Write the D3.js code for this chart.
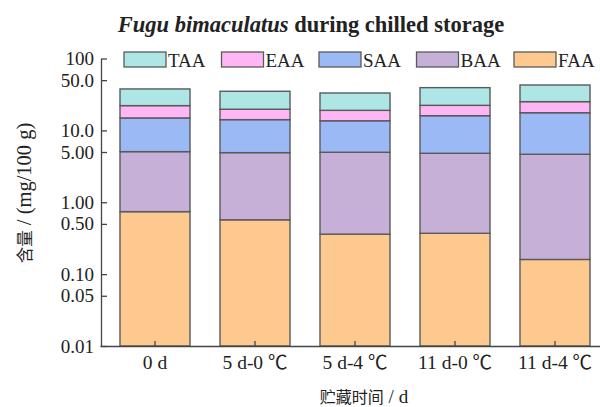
<!DOCTYPE html>
<html>
<head>
<meta charset="utf-8">
<script src="https://cdn.jsdelivr.net/npm/d3@7"></script>
<style>
  body { margin: 0; background: #fff; }
  text { font-family: "Liberation Serif", "Noto Sans CJK SC", serif; fill: #222; }
</style>
</head>
<body>
<svg width="600" height="407"></svg>
<script>
const categories = ['0 d', '5 d-0 ℃', '5 d-4 ℃', '11 d-0 ℃', '11 d-4 ℃']
// segment values, mg/100 g (stacked bottom to top)
const FAA = [0.74, 0.57, 0.36, 0.37, 0.16]
const BAA = [4.32, 4.33, 4.60, 4.43, 4.49]
const SAA = [9.84, 9.20, 8.64, 11.2, 12.95]
const EAA = [7.2, 5.6, 5.4, 6.3, 7.5]
const TAA = [15.6, 15.3, 14.1, 17.0, 17.7]
const yTicks = [0.01, 0.05, 0.1, 0.5, 1, 5, 10, 50, 100]
const yTickLabels = ['0.01', '0.05', '0.10', '0.50', '1.00', '5.00', '10.0', '50.0', '100']

const seriesNames = ['FAA', 'BAA', 'SAA', 'EAA', 'TAA']
const seriesVals = [FAA, BAA, SAA, EAA, TAA]
const legendOrder = ['TAA', 'EAA', 'SAA', 'BAA', 'FAA']
const colors = {TAA: '#aee6e6', EAA: '#ffb6f4', SAA: '#9bbaf5', BAA: '#c6b0d8', FAA: '#fdc98e'}

const svg = d3.select('svg')

const x = d3.scaleBand().domain(categories).range([100, 610]).paddingInner(0.3).paddingOuter(0.2)
const y = d3.scaleLog().domain([0.01, 100]).range([346, 58.5])

// build stacked rows
const rows = categories.map((c, i) => {
    const r = {cat: c}
    seriesNames.forEach((s, j) => r[s] = seriesVals[j][i])
    return r
})
const stacked = d3.stack().keys(seriesNames)(rows)

svg.append('g').selectAll('g').data(stacked).enter().append('g')
    .attr('fill', d => colors[d.key])
  .selectAll('rect').data(d => d).enter().append('rect')
    .attr('x', d => x(d.data.cat))
    .attr('width', x.bandwidth())
    .attr('y', d => y(d[1]))
    .attr('height', d => y(Math.max(d[0], 0.01)) - y(d[1]))
    .attr('stroke', '#5a5a5a')
    .attr('stroke-width', 1.4)

// axes
const yAxis = svg.append('g').attr('transform', 'translate(101,0)')
    .call(d3.axisLeft(y).tickValues(yTicks).tickFormat((d, i) => yTickLabels[i]).tickSize(-6).tickPadding(7).tickSizeOuter(0))
const xAxis = svg.append('g').attr('transform', 'translate(0,346)')
    .call(d3.axisBottom(x).tickSize(-5).tickPadding(9).tickSizeOuter(0))

yAxis.selectAll('text').style('font-size', '19px')
xAxis.selectAll('text').style('font-size', '19.5px')
svg.selectAll('.domain, .tick line').attr('stroke', '#444').attr('stroke-width', 1.3)

// legend
const leg = svg.append('g').selectAll('g').data(legendOrder).enter().append('g')
    .attr('transform', (d, i) => `translate(${124 + i * 97.5},52)`)
leg.append('rect').attr('width', 42).attr('height', 15)
    .attr('fill', d => colors[d]).attr('stroke', '#5a5a5a').attr('stroke-width', 1.3)
leg.append('text').attr('x', 44).attr('y', 14.5).style('font-size', '19px').text(d => d)

// title
const title = svg.append('text').attr('x', 311).attr('y', 32).attr('text-anchor', 'middle')
    .style('font-size', '22.5px').style('font-weight', 'bold')
title.append('tspan').style('font-style', 'italic').text('Fugu bimaculatus')
title.append('tspan').text(' during chilled storage')

// axis titles
const yl = svg.append('text').attr('transform', 'translate(31,193) rotate(-90)').attr('text-anchor', 'middle')
yl.append('tspan').style('font-size', '16.5px').text('含量')
yl.append('tspan').style('font-size', '20.5px').text(' / (mg/100 g)')
const xl = svg.append('text').attr('x', 364).attr('y', 403).attr('text-anchor', 'middle')
xl.append('tspan').style('font-size', '16px').text('贮藏时间')
xl.append('tspan').style('font-size', '19px').text(' / d')
</script>
</body>
</html>
